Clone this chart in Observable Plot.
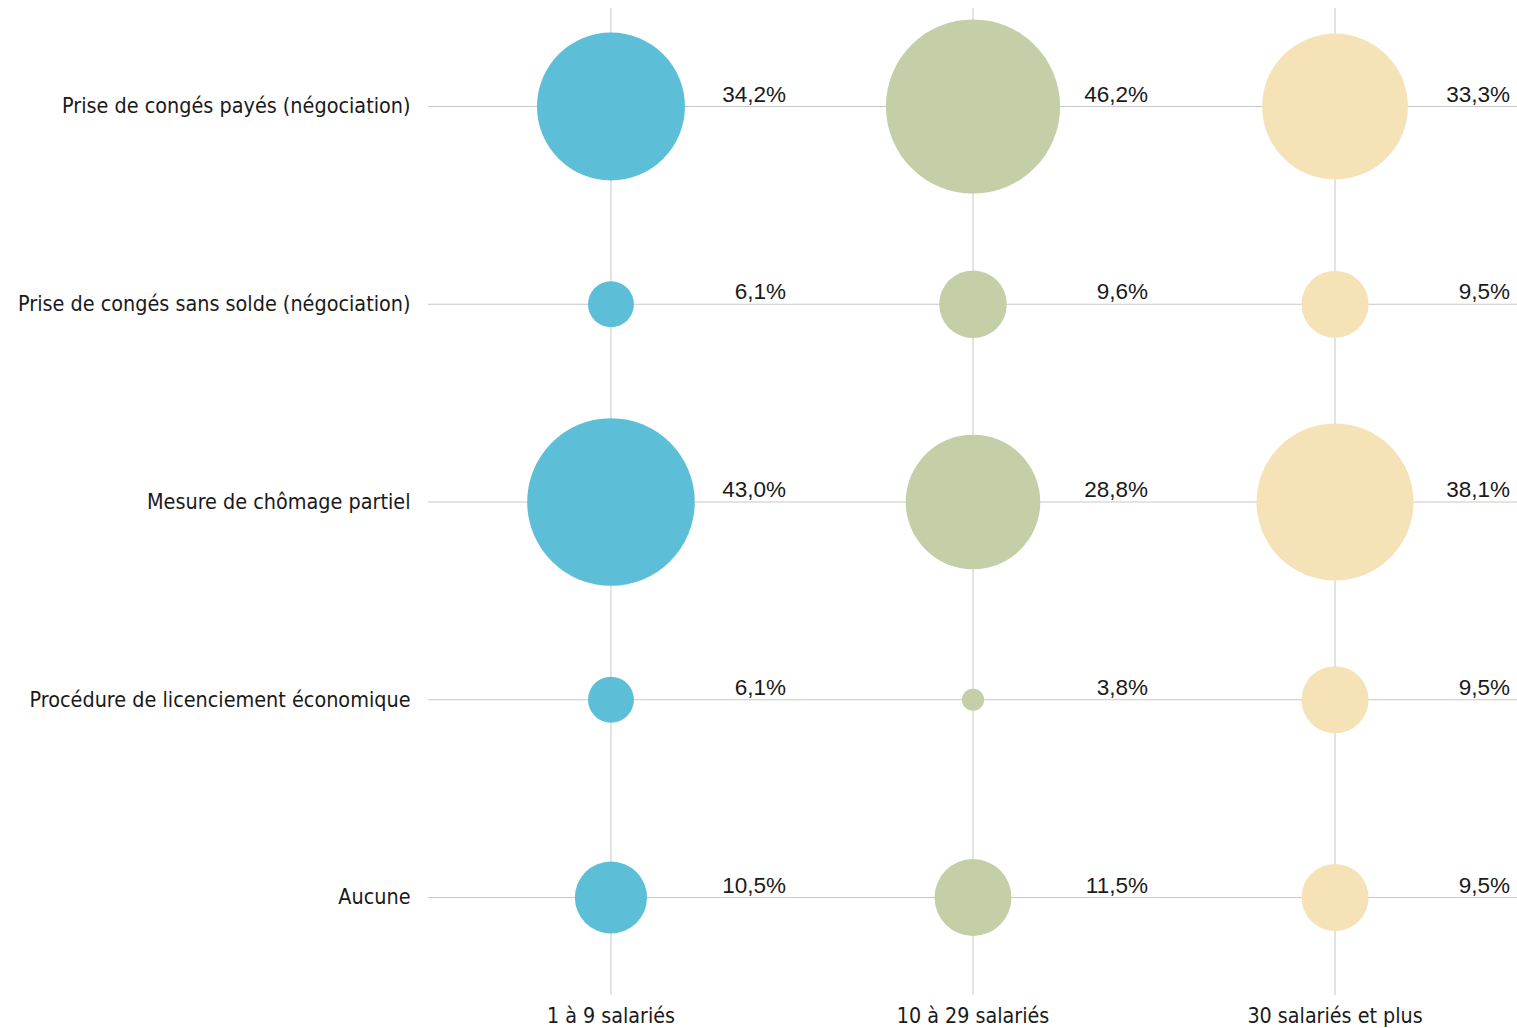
<!DOCTYPE html>
<html>
<head>
<meta charset="utf-8">
<script src="https://cdn.jsdelivr.net/npm/d3@7"></script>
<script src="https://cdn.jsdelivr.net/npm/@observablehq/plot@0.6"></script>
<style>
  html, body { margin: 0; padding: 0; background: #fff; }
  #chart svg { display: block; }
</style>
</head>
<body>
<div id="chart"></div>
<script>
const mesures = [
  "Prise de congés payés (négociation)",
  "Prise de congés sans solde (négociation)",
  "Mesure de chômage partiel",
  "Procédure de licenciement économique",
  "Aucune"
];
const tailles = ["1 à 9 salariés", "10 à 29 salariés", "30 salariés et plus"];
const valeurs1a9 = [34.2, 6.1, 43.0, 6.1, 10.5];
const valeurs10a29 = [46.2, 9.6, 28.8, 3.8, 11.5];
const valeurs30plus = [33.3, 9.5, 38.1, 9.5, 9.5];
const couleurs = ["#5dbed7", "#c4cfa7", "#f5e2b7"];

const series = [valeurs1a9, valeurs10a29, valeurs30plus];
const data = [];
tailles.forEach((t, j) => {
  mesures.forEach((m, i) => {
    data.push({taille: t, mesure: m, valeur: series[j][i]});
  });
});

const fmt = v => v.toFixed(1).replace(".", ",") + "%";
const seuil = 3.1;

const chart = Plot.plot({
  width: 1517,
  height: 1028,
  marginLeft: 428,
  marginRight: 0,
  marginTop: 8,
  marginBottom: 33,
  style: {fontFamily: "'DejaVu Sans Condensed', 'DejaVu Sans', sans-serif", background: "#fff"},
  x: {type: "point", domain: tailles, padding: 0.504, round: false, label: null},
  y: {type: "point", domain: mesures, padding: 0.4956, round: false, label: null},
  r: {domain: [0, 46.2 - seuil], range: [0, 87.1]},
  color: {domain: tailles, range: couleurs},
  marks: [
    Plot.ruleY(mesures, {y: d => d, stroke: "#c8c8c8", strokeWidth: 1}),
    Plot.ruleX(tailles, {x: d => d, stroke: "#c8c8c8", strokeWidth: 1}),
    Plot.dot(data, {x: "taille", y: "mesure", r: d => d.valeur - seuil, fill: "taille", stroke: "none"}),
    Plot.text(data, {x: "taille", y: "mesure", text: d => fmt(d.valeur), textAnchor: "end", dx: 175, dy: -12,
      fontFamily: "Liberation Sans", fontSize: 22.5, fill: "#1a1a1a"}),
    Plot.axisY({tickSize: 0, tickPadding: 18, fontSize: 21.4, fill: "#1a1a1a", label: null}),
    Plot.axisX({tickSize: 0, tickPadding: 12, fontSize: 21.3, fill: "#1a1a1a", label: null})
  ]
});
document.getElementById("chart").appendChild(chart);
</script>
</body>
</html>
